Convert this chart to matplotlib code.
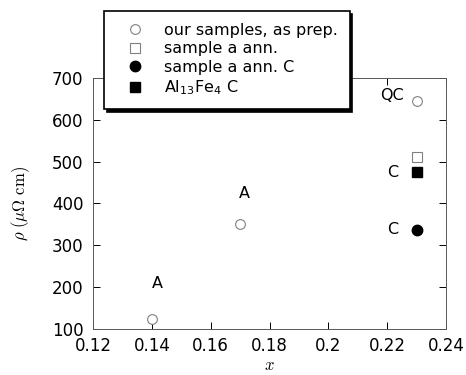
import matplotlib
matplotlib.use("Agg")
from matplotlib import pyplot as plt

plt.rcParams['font.family'] = ['DejaVu Sans']
plt.rcParams['mathtext.fontset'] = 'dejavusans'

# resistivity vs. composition
x_prep = [0.14, 0.17, 0.23]
rho_prep = [125, 350, 645]
x_ann = [0.23]
rho_ann = [512]
x_annC = [0.23]
rho_annC = [337]
x_ref = [0.23]
rho_ref = [475]

legend_labels = ["our samples, as prep.", "sample a ann.",
                 "sample a ann. C", r"Al$_{13}$Fe$_4$ C"]

# phase labels next to the points
phase_labels = ["A", "A", "QC", "C", "C"]
phase_x = [0.14, 0.17, 0.23, 0.23, 0.23]
phase_y = [125, 350, 645, 475, 337]
phase_offsets = [(4, 25), (3, 22), (-18, 4), (-17, 0), (-17, 0)]

fig = plt.figure(figsize=(4.66, 3.75), dpi=100)
ax = fig.add_axes([0.1996, 0.1227, 0.7575, 0.6693])

ax.plot(x_prep, rho_prep, 'o', ms=7, mfc='white', mec='0.5', mew=0.8,
        label=legend_labels[0], zorder=3)
ax.plot(x_ann, rho_ann, 's', ms=7, mfc='white', mec='0.5', mew=0.8,
        label=legend_labels[1], zorder=3)
ax.plot(x_annC, rho_annC, 'o', ms=7.5, mfc='black', mec='black',
        label=legend_labels[2], zorder=3)
ax.plot(x_ref, rho_ref, 's', ms=7, mfc='black', mec='black',
        label=legend_labels[3], zorder=3)

for lab, px, py, off in zip(phase_labels, phase_x, phase_y, phase_offsets):
    ax.annotate(lab, (px, py), xytext=off, textcoords='offset points',
                ha='center', va='center', fontsize=11.5)

ax.set_xlim(0.12, 0.24)
ax.set_ylim(100, 700)
ax.set_xticks([0.12, 0.14, 0.16, 0.18, 0.2, 0.22, 0.24])
ax.set_xticklabels(["0.12", "0.14", "0.16", "0.18", "0.2", "0.22", "0.24"])
ax.set_yticks([100, 200, 300, 400, 500, 600, 700])
ax.tick_params(direction='in', top=True, right=True, length=5, width=0.7,
               labelsize=12, colors='black')
ax.tick_params(axis='x', pad=6)
ax.tick_params(axis='y', pad=7)
for sp in ax.spines.values():
    sp.set_linewidth(0.7)
    sp.set_color('0.35')

ax.set_xlabel(r'$x$', fontsize=12, math_fontfamily='cm', labelpad=0.5)
ax.set_ylabel(r'$\rho\ (\mu\Omega\ \mathrm{cm})$', fontsize=12,
              math_fontfamily='cm', labelpad=14)

leg = fig.legend(loc='upper left', bbox_to_anchor=(0.223, 0.971),
                 bbox_transform=fig.transFigure, borderaxespad=0,
                 fontsize=11.5, frameon=True, fancybox=False,
                 edgecolor='black', framealpha=1,
                 shadow={'color': 'black', 'alpha': 1},
                 borderpad=0.75, handlelength=2.4, handletextpad=0.6,
                 labelspacing=0.22)
leg.get_frame().set_linewidth(1.2)

fig.savefig("out.png", dpi=100)
